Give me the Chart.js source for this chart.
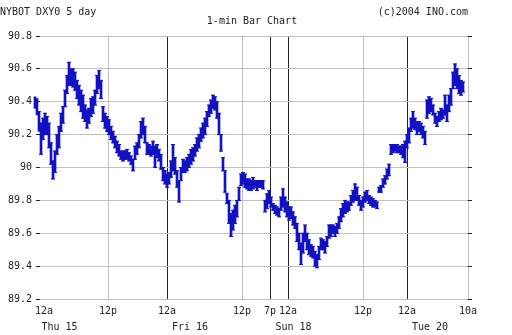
<!DOCTYPE html>
<html>
<head>
<meta charset="utf-8">
<script src="https://cdn.jsdelivr.net/npm/chart.js@4"></script>
<style>
  html, body { margin: 0; padding: 0; background: #fff; }
  canvas { display: block; }
</style>
</head>
<body>
<canvas id="dxChart" width="512" height="335"></canvas>
<script>
// bar slots: one slot per minute group, slot 0 = 12a Thu
const firstSlot = -9;
const slotStep = 2;

// low / high of each slot
const barLow = [
  90.36, 90.32, 90.22, 90.08, 90.17, 90.20, 90.20, 90.12, 90.02, 89.93,
  89.97, 90.08, 90.12, 90.22, 90.27, 90.37, 90.45, 90.50, 90.50, 90.49,
  90.47, 90.42, 90.38, 90.34, 90.30, 90.28, 90.24, 90.27, 90.31, 90.33,
  90.38, 90.45, 90.48, 90.42, 90.28, 90.24, 90.22, 90.20, 90.17, 90.15,
  90.12, 90.09, 90.07, 90.05, 90.04, 90.05, 90.05, 90.04, 90.02, 89.98,
  90.05, 90.08, 90.12, 90.18, 90.20, 90.15, 90.08, 90.08, 90.07, 90.08,
  90.00, 90.06, 90.04, 89.99, 89.92, 89.90, 89.88, 89.90, 89.94, 89.98,
  89.96, 89.88, 89.79, 89.92, 89.97, 89.97, 89.98, 90.00, 90.02, 90.04,
  90.07, 90.10, 90.12, 90.16, 90.18, 90.20, 90.25, 90.31, 90.33, 90.36,
  90.35, 90.30, 90.20, 90.10, 89.98, 89.85, 89.78, 89.66, 89.58, 89.62,
  89.66, 89.70, 89.80, 89.89, 89.90, 89.88, 89.87, 89.86, 89.86, 89.87,
  89.88, 89.86, 89.88, 89.88, 89.87, 89.73, 89.75, 89.78, 89.76, 89.74,
  89.72, 89.71, 89.70, 89.74, 89.76, 89.73, 89.70, 89.68, 89.69, 89.65,
  89.63, 89.55, 89.50, 89.41, 89.48, 89.55, 89.50, 89.47, 89.46, 89.45,
  89.40, 89.39, 89.44, 89.50, 89.50, 89.48, 89.52, 89.57, 89.58, 89.60,
  89.58, 89.60, 89.63, 89.67, 89.70, 89.72, 89.73, 89.74, 89.77, 89.79,
  89.80, 89.80, 89.77, 89.74, 89.76, 89.79, 89.80, 89.78, 89.77, 89.76,
  89.76, 89.75, 89.85, 89.85, 89.88, 89.90, 89.93, 89.95, 90.08, 90.09,
  90.10, 90.09, 90.09, 90.08, 90.06, 90.03, 90.12, 90.15, 90.22, 90.24,
  90.23, 90.20, 90.22, 90.20, 90.18, 90.14, 90.30, 90.33, 90.34, 90.32,
  90.27, 90.25, 90.28, 90.29, 90.30, 90.32, 90.28, 90.34, 90.38, 90.48,
  90.50, 90.48, 90.45, 90.44, 90.46
];
const barHigh = [
  90.43, 90.42, 90.34, 90.27, 90.30, 90.33, 90.31, 90.27, 90.15, 90.04,
  90.10, 90.20, 90.25, 90.33, 90.37, 90.47, 90.56, 90.64, 90.60, 90.60,
  90.58, 90.53, 90.50, 90.47, 90.44, 90.38, 90.35, 90.36, 90.42, 90.43,
  90.47, 90.56, 90.59, 90.53, 90.37, 90.33, 90.31, 90.29, 90.25, 90.22,
  90.19, 90.16, 90.14, 90.10, 90.10, 90.10, 90.11, 90.09, 90.07, 90.05,
  90.13, 90.15, 90.20, 90.28, 90.30, 90.25, 90.15, 90.14, 90.13, 90.16,
  90.13, 90.14, 90.11, 90.08, 90.00, 89.98, 89.96, 89.97, 90.04, 90.14,
  90.06, 89.98, 89.92, 90.00, 90.05, 90.04, 90.06, 90.08, 90.11, 90.12,
  90.14, 90.18, 90.20, 90.24, 90.27, 90.30, 90.34, 90.38, 90.41, 90.44,
  90.43, 90.40, 90.33, 90.20, 90.06, 89.98, 89.84, 89.80, 89.72, 89.74,
  89.77, 89.80, 89.88, 89.96, 89.97, 89.96, 89.93, 89.93, 89.92, 89.94,
  89.92, 89.92, 89.92, 89.92, 89.92, 89.80, 89.84, 89.86, 89.82, 89.78,
  89.77, 89.76, 89.75, 89.82, 89.87, 89.82, 89.79, 89.76, 89.76, 89.73,
  89.70, 89.66, 89.60, 89.54, 89.60, 89.65, 89.60, 89.56, 89.53, 89.52,
  89.49, 89.47, 89.52, 89.57, 89.56, 89.55, 89.58, 89.65, 89.65, 89.65,
  89.64, 89.66, 89.70, 89.75, 89.78, 89.80, 89.79, 89.79, 89.83, 89.86,
  89.90, 89.88, 89.83, 89.80, 89.82, 89.85, 89.86, 89.83, 89.82, 89.81,
  89.80, 89.79, 89.88, 89.89, 89.93, 89.95, 89.99, 90.02, 90.14, 90.14,
  90.14, 90.14, 90.13, 90.13, 90.14, 90.16, 90.20, 90.24, 90.30, 90.34,
  90.30, 90.28, 90.28, 90.27, 90.25, 90.22, 90.41, 90.43, 90.42, 90.38,
  90.33, 90.31, 90.34, 90.36, 90.35, 90.44, 90.38, 90.44, 90.48, 90.58,
  90.63, 90.60, 90.56, 90.53, 90.52
];

// axes
const xTickSlots = [0, 64, 123, 198, 226, 244, 319, 363, 424];
const xTickLabels = ['12a', '12p', '12a', '12p', '7p', '12a', '12p', '12a', '10a'];
const xLineColors = ['rgba(0,0,0,0)', '#c0c0c0', '#222', '#c0c0c0', '#222', '#222', '#c0c0c0', '#222', '#c0c0c0'];
const dayLabels = ['Thu 15', 'Fri 16', 'Sun 18', 'Tue 20'];
const daySlots = [15.5, 146, 249.5, 386];
const yTicks = [89.2, 89.4, 89.6, 89.8, 90, 90.2, 90.4, 90.6, 90.8];
const yTickLabels = ['89.2', '89.4', '89.6', '89.8', '90', '90.2', '90.4', '90.6', '90.8'];

const BLUE = '#1212c4';
const FONT = { family: 'DejaVu Sans Mono', size: 10 };

const bars = barLow.map((lo, i) => ({ x: firstSlot + i * slotStep, y: [lo, barHigh[i]] }));
const ticks = [];
barLow.forEach((lo, i) => {
    ticks.push({ x: firstSlot + i * slotStep, y: lo });
    ticks.push({ x: firstSlot + i * slotStep, y: barHigh[i] });
});

// titles and the day row under the time labels
const textPlugin = {
    id: 'texts',
    afterDraw(chart) {
        const c = chart.ctx;
        const xs = chart.scales.x;
        c.save();
        c.fillStyle = '#222';
        c.font = '10px "DejaVu Sans Mono"';
        c.textBaseline = 'alphabetic';
        c.textAlign = 'left';
        c.fillText('NYBOT DXY0 5 day', 0, 15);
        c.textAlign = 'right';
        c.fillText('(c)2004 INO.com', 468, 15);
        c.textAlign = 'center';
        c.fillText('1-min Bar Chart', 252, 24);
        dayLabels.forEach((t, i) => {
            c.fillText(t, xs.getPixelForValue(daySlots[i]), 330);
        });
        c.restore();
    }
};

new Chart(document.getElementById('dxChart'), {
    type: 'bar',
    data: {
        datasets: [{
            data: bars,
            backgroundColor: BLUE,
            barThickness: 2,
            clip: false,
            order: 2
        }, {
            type: 'line',
            data: ticks,
            showLine: false,
            pointStyle: 'line',
            pointRadius: 2,
            pointBorderWidth: 1,
            borderColor: BLUE,
            pointBorderColor: BLUE,
            clip: false,
            order: 1
        }]
    },
    options: {
        responsive: false,
        animation: false,
        devicePixelRatio: 1,
        layout: { padding: { top: 36, left: 0, right: 0, bottom: 0 } },
        plugins: { legend: { display: false }, tooltip: { enabled: false } },
        scales: {
            x: {
                type: 'linear',
                offset: false,
                min: -4,
                max: 424,
                afterBuildTicks: s => { s.ticks = xTickSlots.map(v => ({ value: v })); },
                afterFit: s => { s.height = 36; },
                ticks: {
                    autoSkip: false,
                    maxRotation: 0,
                    color: '#222',
                    font: FONT,
                    padding: 6,
                    callback: (v, i) => xTickLabels[i]
                },
                grid: {
                    offset: false,
                    color: ctx => xLineColors[ctx.index],
                    drawTicks: false
                },
                border: { display: false }
            },
            y: {
                position: 'left',
                min: 89.2,
                max: 90.8,
                afterBuildTicks: s => { s.ticks = yTicks.map(v => ({ value: v })); },
                afterFit: s => { s.width = 40; },
                ticks: {
                    color: '#222',
                    font: FONT,
                    padding: 4,
                    callback: (v, i) => yTickLabels[i]
                },
                grid: { color: '#c0c0c0', tickColor: '#222', tickLength: 4 },
                border: { display: false }
            },
            y2: {
                position: 'right',
                min: 89.2,
                max: 90.8,
                afterBuildTicks: s => { s.ticks = yTicks.map(v => ({ value: v })); },
                afterFit: s => { s.width = 44; },
                ticks: { display: false },
                grid: { drawOnChartArea: false, tickColor: '#222', tickLength: 4 },
                border: { display: false }
            }
        }
    },
    plugins: [textPlugin]
});
</script>
</body>
</html>
